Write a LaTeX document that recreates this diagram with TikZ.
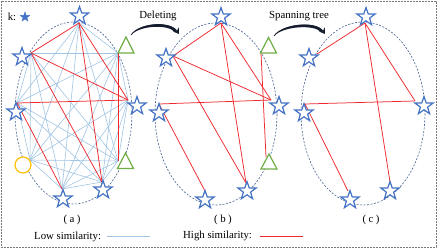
\documentclass[tikz,border=0pt]{standalone}
\usepackage{fontspec}
\setmainfont{Liberation Serif}
\usetikzlibrary{shapes.geometric,arrows.meta}
\definecolor{starblue}{RGB}{68,114,196}
\definecolor{lowblue}{RGB}{160,196,228}
\definecolor{highred}{RGB}{238,40,45}
\definecolor{ellcol}{RGB}{70,95,145}
\definecolor{trigreen}{RGB}{112,173,71}
\definecolor{circyellow}{RGB}{255,192,0}
\definecolor{arrowcol}{RGB}{20,28,45}
\definecolor{framegray}{RGB}{120,120,120}
\begin{document}
\begin{tikzpicture}[x=1pt,y=-1pt,
  starnode/.style={star,star points=5,star point ratio=2.5,minimum size=19pt,inner sep=0pt,draw=starblue,fill=white,line width=1.2pt},
  lowedge/.style={draw=lowblue,line width=0.6pt},
  highedge/.style={draw=highred,line width=0.75pt},
  ellipsebd/.style={draw=ellcol,line width=0.6pt,dash pattern=on 2pt off 1.5pt},
  trishape/.style={draw=trigreen,line width=1.2pt,fill=white,line join=miter},
  circshape/.style={circle,draw=circyellow,line width=1.2pt,fill=white,minimum size=16pt,inner sep=0pt},
  lbl/.style={font=\fontsize{10.8}{12}\selectfont,inner sep=0pt},
  bendarrow/.style={draw=arrowcol,line width=0.7pt,-{Stealth[length=5.5pt,width=7pt]}}
]
\useasboundingbox (0,0) rectangle (437,248);
\draw[framegray,line width=0.6pt,dash pattern=on 2pt off 1pt] (1,1) rectangle (436,247);

% ---------- panel (a) ----------
\draw[ellipsebd] (73.5,113) ellipse [x radius=58.5, y radius=91];
\coordinate (aT) at (79,23);
\coordinate (aUL) at (31,53);
\coordinate (aTa) at (118,53);
\coordinate (aR) at (128,100);
\coordinate (aL) at (17,103);
\coordinate (aC) at (30,160);
\coordinate (aTb) at (118,161);
\coordinate (aBR) at (102,182);
\coordinate (aB) at (62,189);
\foreach \u/\v in {T/Ta,T/L,T/C,T/Tb,T/B,UL/Ta,UL/L,UL/C,UL/Tb,UL/B,Ta/R,Ta/L,Ta/C,Ta/BR,Ta/B,R/C,R/Tb,R/BR,R/B,L/C,L/Tb,L/BR,C/Tb,C/BR,C/B,Tb/BR,Tb/B,BR/B}
  \draw[lowedge] (a\u) -- (a\v);
\foreach \u/\v in {T/UL,T/R,T/BR,UL/R,UL/BR,L/R,L/B,Ta/Tb}
  \draw[highedge] (a\u) -- (a\v);
\node[starnode] (aTs) at (79.5,16) {};
\node[starnode] (aULs) at (22,57) {};
\node[starnode] (aRs) at (137,106) {};
\node[starnode] (aLs) at (16,112) {};
\node[starnode] (aBRs) at (103,190) {};
\node[starnode] (aBs) at (63,199) {};
\node[circshape] (aCs) at (23,165) {};
\draw[trishape] (126,37) -- (134,53) -- (118,53) -- cycle;
\draw[trishape] (125.5,153) -- (133.5,168.5) -- (117.5,168.5) -- cycle;

% ---------- panel (b) ----------
\draw[ellipsebd] (216,114) ellipse [x radius=61, y radius=91];
\coordinate (bT) at (221,23);
\coordinate (bUL) at (173,56);
\coordinate (bTa) at (261,53);
\coordinate (bR) at (271,100);
\coordinate (bL) at (159,104);
\coordinate (bTb) at (266,157);
\coordinate (bBR) at (246,183);
\coordinate (bB) at (205,191);
\foreach \u/\v in {T/UL,T/R,T/BR,UL/R,UL/BR,L/R,L/B,Ta/Tb}
  \draw[highedge] (b\u) -- (b\v);
\node[starnode] (bTs) at (221,17) {};
\node[starnode] (bULs) at (166,58) {};
\node[starnode] (bRs) at (279,106) {};
\node[starnode] (bLs) at (159,113) {};
\node[starnode] (bBRs) at (247,191) {};
\node[starnode] (bBs) at (205,200) {};
\draw[trishape] (268.5,37.5) -- (276.5,53) -- (260.5,53) -- cycle;
\draw[trishape] (269,154) -- (277,169) -- (261,169) -- cycle;

% ---------- panel (c) ----------
\draw[ellipsebd] (363,113.5) ellipse [x radius=62, y radius=91.5];
\coordinate (cT) at (365,23);
\coordinate (cUL) at (317,54);
\coordinate (cR) at (415,101);
\coordinate (cL) at (305,104);
\coordinate (cBR) at (390,182);
\coordinate (cB) at (348,191);
\foreach \u/\v in {T/UL,T/R,T/BR,L/R,L/B}
  \draw[highedge] (c\u) -- (c\v);
\node[starnode] (cTs) at (366,17) {};
\node[starnode] (cULs) at (309,58) {};
\node[starnode] (cRs) at (424,106) {};
\node[starnode] (cLs) at (304,113) {};
\node[starnode] (cBRs) at (390,191) {};
\node[starnode] (cBs) at (350,200) {};

% ---------- arrows (tapered) ----------
\coordinate (d1) at (131,35);
\coordinate (d2) at (179,34);
\fill[arrowcol] (d1) .. controls (139,22.6) and (169,20.6) .. (176.5,30.2)
  -- (174.6,31.8) .. controls (168,24.2) and (140,25.2) .. (d1) -- cycle;
\draw[bendarrow] (d1) .. controls (139,23) and (170,21) .. (d2);
\node[lbl] (del) at (158,16) {Deleting};
\coordinate (s1) at (274,36);
\coordinate (s2) at (325,34);
\fill[arrowcol] (s1) .. controls (282,23.6) and (315,20.6) .. (322.5,30.2)
  -- (320.6,31.8) .. controls (314,24.2) and (283,26.2) .. (s1) -- cycle;
\draw[bendarrow] (s1) .. controls (282,24) and (316,21) .. (s2);
\node[lbl] (span) at (299,16) {Spanning tree};

% ---------- key ----------
\node[lbl] (k) at (12,17) {k:};
\node[star,star points=5,star point ratio=2.5,minimum size=10pt,inner sep=0pt,draw=starblue,fill=starblue] (kstar) at (25,17) {};

\node[lbl] (la) at (72,220) {(\hspace{2.5pt}a\hspace{2.5pt})};
\node[lbl] (lb) at (223,220) {(\hspace{2.5pt}b\hspace{2.5pt})};
\node[lbl] (lc) at (371,220) {(\hspace{2.5pt}c\hspace{2.5pt})};

\node[lbl,anchor=west] (low) at (34,237) {Low similarity:};
\coordinate (l1) at (107,237);
\coordinate (l2) at (150,237);
\draw[draw=lowblue,line width=1pt] (l1) -- (l2);
\node[lbl,anchor=west] (high) at (183,236) {High similarity:};
\coordinate (h1) at (260,237);
\coordinate (h2) at (303,237);
\draw[draw=highred,line width=1pt] (h1) -- (h2);
\end{tikzpicture}
\end{document}
